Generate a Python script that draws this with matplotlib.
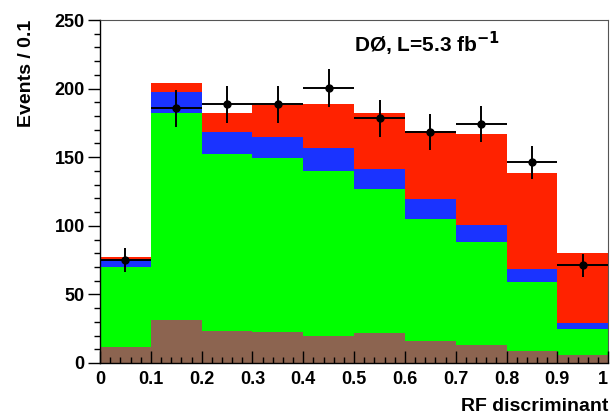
"""
RF discriminant stacked histogram with data points (D0, 5.3 fb^-1)
"""

import numpy as np
import matplotlib
matplotlib.use('Agg')
import matplotlib.pyplot as plt
from matplotlib.ticker import MultipleLocator

# bin edges / centres
bin_lo = [0.0, 0.1, 0.2, 0.3, 0.4, 0.5, 0.6, 0.7, 0.8, 0.9]
bin_width = 0.1

# stacked components (bottom -> top)
brown = [11.4, 31.3, 23.3, 22.8, 19.7, 22.1, 16.3, 13.1, 9.0, 5.6]
green = [58.8, 150.7, 128.7, 126.9, 120.3, 104.5, 88.4, 75.3, 50.3, 19.4]
blue = [5.4, 15.8, 16.6, 15.3, 17.0, 15.0, 15.1, 12.4, 9.0, 3.9]
red = [1.4, 6.5, 13.4, 23.0, 31.5, 40.9, 49.5, 66.1, 70.0, 51.5]

# data
data = [75.0, 185.6, 188.5, 188.5, 200.4, 178.3, 168.4, 174.2, 146.3, 71.2]
data_err = [8.6, 13.6, 13.7, 13.7, 14.0, 13.4, 13.0, 13.1, 12.1, 8.5]

xtick_vals = [0.0, 0.1, 0.2, 0.3, 0.4, 0.5, 0.6, 0.7, 0.8, 0.9, 1.0]
xtick_labels = ['0', '0.1', '0.2', '0.3', '0.4', '0.5', '0.6', '0.7', '0.8', '0.9', '1']

colors = ['#8c6450', '#00ff00', '#1a33ff', '#ff2200']

plt.rcParams['font.family'] = ['Liberation Sans', 'DejaVu Sans']
plt.rcParams['font.weight'] = 'bold'

fig = plt.figure(figsize=(6.1, 4.17), dpi=100)
ax = fig.add_axes([0.164, 0.1295, 0.833, 0.8225])

# stacked histogram
bottom = np.zeros(len(bin_lo))
for comp, col in zip([brown, green, blue, red], colors):
    comp = np.array(comp)
    ax.bar(bin_lo, comp, width=bin_width, bottom=bottom, align='edge',
           color=col, linewidth=0)
    bottom = bottom + comp

# data points
centres = np.array(bin_lo) + bin_width / 2
ax.errorbar(centres, data, xerr=bin_width / 2, yerr=data_err, fmt='o',
            color='black', markersize=5, elinewidth=1.4, capsize=0, zorder=5)

ax.set_xlim(0, 1)
ax.set_ylim(0, 250)

ax.set_xticks(xtick_vals)
ax.set_xticklabels(xtick_labels)
ax.xaxis.set_minor_locator(MultipleLocator(0.02))
ax.yaxis.set_major_locator(MultipleLocator(50))
ax.yaxis.set_minor_locator(MultipleLocator(10))

ax.tick_params(axis='x', which='major', direction='in', length=9, width=1,
               labelsize=13, pad=6, top=False)
ax.tick_params(axis='x', which='minor', direction='in', length=4.5, width=1, top=False)
ax.tick_params(axis='y', which='major', direction='out', length=9, width=1,
               labelsize=13, pad=2, right=False)
ax.tick_params(axis='y', which='minor', direction='out', length=4.5, width=1, right=False)
for lab in ax.get_xticklabels() + ax.get_yticklabels():
    lab.set_fontweight('bold')
# keep the last x label inside the figure
ax.get_xticklabels()[-1].set_horizontalalignment('right')

for side in ['top', 'right']:
    ax.spines[side].set_linewidth(0.8)
    ax.spines[side].set_color('#555555')
for side in ['left', 'bottom']:
    ax.spines[side].set_linewidth(1)
ax.set_axisbelow(False)

ax.set_xlabel('RF discriminant', fontsize=14, fontweight='bold', loc='right', labelpad=7)
ax.set_ylabel('Events / 0.1', fontsize=14, fontweight='bold', loc='top', labelpad=14)

ax.text(0.5, 0.93, r'DØ, L=5.3 fb$^{\mathbf{-1}}$', transform=ax.transAxes,
        fontsize=15, fontweight='bold', va='center', ha='left')

fig.savefig('out.png', dpi=100)
